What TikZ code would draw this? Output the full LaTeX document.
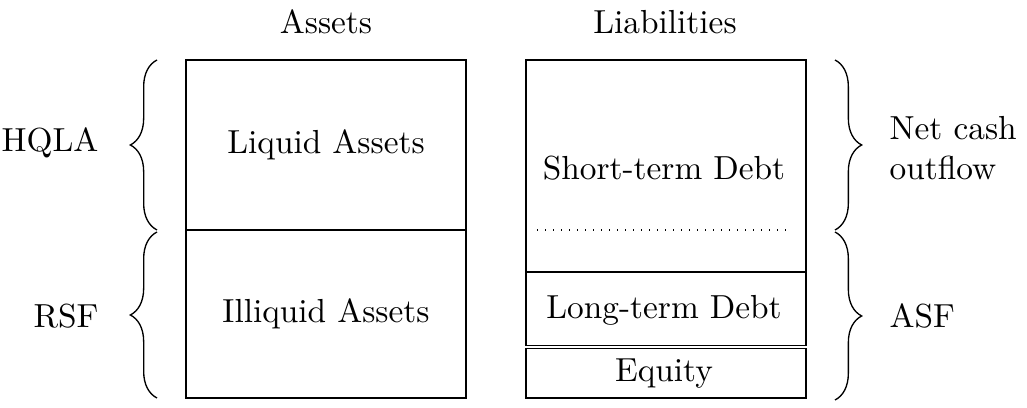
\documentclass[tikz,border=0pt]{standalone}
\usetikzlibrary{decorations.pathreplacing}
\begin{document}
\begin{tikzpicture}[x=0.3pt,y=-0.3pt,
  box/.style={draw,line width=0.45pt},
  lbl/.style={inner sep=0pt},
  brc/.style={decorate,decoration={brace,amplitude=8pt,aspect=0.5},line width=0.4pt}]
\useasboundingbox (0,0) rectangle (1027,408);
% titles
\node[lbl] (tA) at (326,22) {Assets};
\node[lbl] (tL) at (665,22) {Liabilities};
% assets
\draw[box] (186,60) rectangle (466,230);
\draw[box] (186,230) rectangle (466,398);
\node[lbl] (liq) at (326,145) {Liquid Assets};
\node[lbl] (ill) at (326,314) {Illiquid Assets};
% liabilities
\draw[box] (526,60) rectangle (806,272);
\draw[box] (526,272) rectangle (806,345.5);
\draw[box] (526,348.5) rectangle (806,398);
\draw[dotted,line width=0.4pt] (537,230) -- (792,230);
\node[lbl] (std) at (664,168) {Short-term Debt};
\node[lbl] (ltd) at (664,310) {Long-term Debt};
\node[lbl] (eq) at (664,374) {Equity};
% braces left
\coordinate (l1a) at (157,230); \coordinate (l1b) at (157,60);
\coordinate (l2a) at (157,398); \coordinate (l2b) at (157,232);
\draw[brc] (l1a) -- (l1b);
\draw[brc] (l2a) -- (l2b);
\node[lbl,anchor=east] (hqla) at (99,143) {HQLA};
\node[lbl,anchor=east] (rsf) at (99,316) {RSF};
% braces right
\coordinate (r1a) at (835,60); \coordinate (r1b) at (835,230);
\coordinate (r2a) at (835,232); \coordinate (r2b) at (835,400);
\draw[brc] (r1a) -- (r1b);
\draw[brc] (r2a) -- (r2b);
\node[lbl,anchor=west,align=left] (ncf) at (889,148) {Net cash\\outflow};
\node[lbl,anchor=west] (asf) at (889,316) {ASF};
\end{tikzpicture}
\end{document}
